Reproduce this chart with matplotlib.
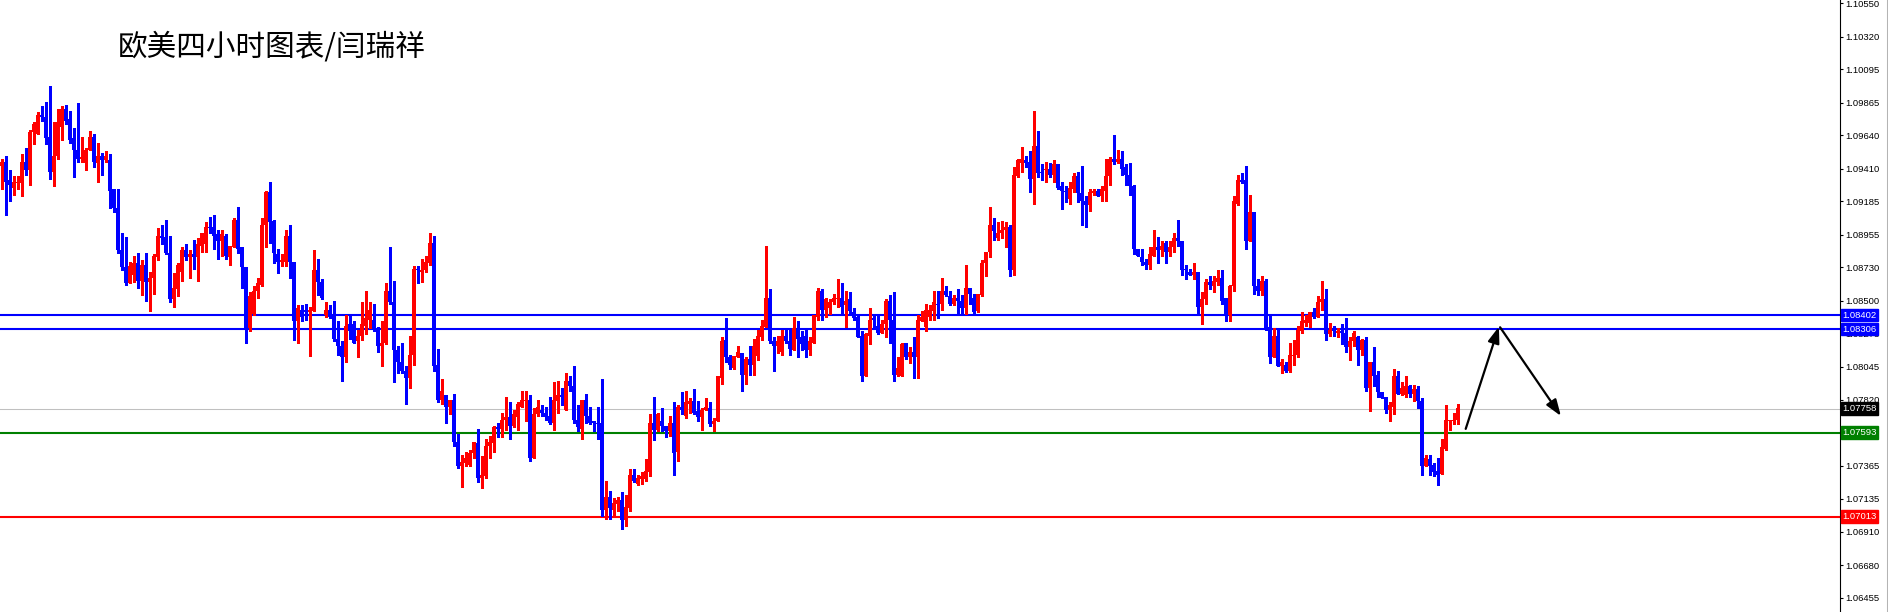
import numpy as np
import matplotlib
matplotlib.use("Agg")
import matplotlib.pyplot as plt
from matplotlib.lines import Line2D

opens = [
    1.0943, 1.0946, 1.0933, 1.0928, 1.0931, 1.0931, 1.0946, 1.0940, 1.0966, 1.0965,
    1.0978, 1.0977, 1.0963, 1.0939, 1.0950, 1.0970, 1.0982, 1.0975, 1.0962, 1.0954,
    1.0948, 1.0945, 1.0954, 1.0963, 1.0945, 1.0950, 1.0947, 1.0947, 1.0927, 1.0914,
    1.0885, 1.0873, 1.0862, 1.0868, 1.0876, 1.0864, 1.0875, 1.0863, 1.0866, 1.0880,
    1.0895, 1.0894, 1.0883, 1.0851, 1.0858, 1.0870, 1.0885, 1.0880, 1.0882, 1.0880,
    1.0888, 1.0889, 1.0901, 1.0901, 1.0896, 1.0891, 1.0895, 1.0880, 1.0887, 1.0906,
    1.0887, 1.0873, 1.0831, 1.0841, 1.0857, 1.0861, 1.0902, 1.0925, 1.0905, 1.0882,
    1.0877, 1.0877, 1.0895, 1.0877, 1.0836, 1.0844, 1.0844, 1.0842, 1.0843, 1.0871,
    1.0863, 1.0840, 1.0844, 1.0840, 1.0824, 1.0819, 1.0811, 1.0834, 1.0834, 1.0822,
    1.0826, 1.0833, 1.0837, 1.0837, 1.0831, 1.0819, 1.0821, 1.0857, 1.0849, 1.0816,
    1.0808, 1.0802, 1.0797, 1.0813, 1.0872, 1.0870, 1.0871, 1.0876, 1.0890, 1.0806,
    1.0782, 1.0785, 1.0777, 1.0782, 1.0753, 1.0736, 1.0738, 1.0737, 1.0745, 1.0752,
    1.0728, 1.0729, 1.0750, 1.0752, 1.0763, 1.0762, 1.0768, 1.0770, 1.0764, 1.0770,
    1.0777, 1.0781, 1.0782, 1.0742, 1.0772, 1.0775, 1.0773, 1.0771, 1.0766, 1.0781,
    1.0785, 1.0775, 1.0795, 1.0791, 1.0768, 1.0762, 1.0782, 1.0771, 1.0767, 1.0766,
    1.0766, 1.0706, 1.0715, 1.0706, 1.0710, 1.0713, 1.0699, 1.0707, 1.0730, 1.0724,
    1.0727, 1.0727, 1.0732, 1.0766, 1.0761, 1.0767, 1.0764, 1.0760, 1.0766, 1.0746,
    1.0777, 1.0771, 1.0779, 1.0781, 1.0774, 1.0770, 1.0775, 1.0776, 1.0765, 1.0767,
    1.0797, 1.0823, 1.0811, 1.0804, 1.0811, 1.0814, 1.0799, 1.0810, 1.0806, 1.0812,
    1.0825, 1.0832, 1.0852, 1.0822, 1.0819, 1.0815, 1.0826, 1.0822, 1.0816, 1.0831,
    1.0825, 1.0826, 1.0816, 1.0821, 1.0839, 1.0857, 1.0844, 1.0845, 1.0849, 1.0851,
    1.0852, 1.0847, 1.0851, 1.0842, 1.0839, 1.0826, 1.0798, 1.0826, 1.0838, 1.0833,
    1.0828, 1.0834, 1.0850, 1.0837, 1.0799, 1.0798, 1.0821, 1.0811, 1.0815, 1.0811,
    1.0836, 1.0832, 1.0839, 1.0843, 1.0848, 1.0848, 1.0857, 1.0853, 1.0848, 1.0852,
    1.0850, 1.0845, 1.0859, 1.0852, 1.0843, 1.0854, 1.0876, 1.0884, 1.0902, 1.0893,
    1.0897, 1.0899, 1.0901, 1.0871, 1.0936, 1.0945, 1.0947, 1.0946, 1.0934, 1.0957,
    1.0939, 1.0940, 1.0941, 1.0937, 1.0944, 1.0929, 1.0926, 1.0920, 1.0927, 1.0936,
    1.0924, 1.0919, 1.0916, 1.0924, 1.0926, 1.0922, 1.0926, 1.0936, 1.0948, 1.0946,
    1.0948, 1.0942, 1.0937, 1.0929, 1.0886, 1.0880, 1.0877, 1.0875, 1.0881, 1.0887,
    1.0885, 1.0890, 1.0884, 1.0887, 1.0893, 1.0891, 1.0872, 1.0870, 1.0868, 1.0870,
    1.0846, 1.0851, 1.0863, 1.0860, 1.0863, 1.0866, 1.0852, 1.0840, 1.0860, 1.0917,
    1.0933, 1.0933, 1.0891, 1.0911, 1.0860, 1.0857, 1.0864, 1.0832, 1.0811, 1.0826,
    1.0805, 1.0806, 1.0802, 1.0812, 1.0813, 1.0829, 1.0835, 1.0835, 1.0842, 1.0839,
    1.0849, 1.0851, 1.0827, 1.0830, 1.0828, 1.0829, 1.0828, 1.0818, 1.0822, 1.0825,
    1.0816, 1.0823, 1.0790, 1.0808, 1.0799, 1.0787, 1.0784, 1.0775, 1.0777, 1.0798,
    1.0786, 1.0785, 1.0791, 1.0786, 1.0789, 1.0781, 1.0736, 1.0741, 1.0737, 1.0733,
    1.0731, 1.0748, 1.0767, 1.0767, 1.0768,
]
highs = [
    1.0948, 1.0950, 1.0940, 1.0936, 1.0936, 1.0951, 1.0955, 1.0968, 1.0973, 1.0980,
    1.0984, 1.0987, 1.0998, 1.0973, 1.0982, 1.0984, 1.0985, 1.0981, 1.0969, 1.0986,
    1.0963, 1.0955, 1.0967, 1.0965, 1.0959, 1.0952, 1.0953, 1.0951, 1.0927, 1.0927,
    1.0897, 1.0894, 1.0877, 1.0881, 1.0883, 1.0878, 1.0883, 1.0870, 1.0882, 1.0900,
    1.0902, 1.0906, 1.0895, 1.0869, 1.0876, 1.0887, 1.0889, 1.0885, 1.0892, 1.0893,
    1.0897, 1.0904, 1.0908, 1.0909, 1.0899, 1.0899, 1.0896, 1.0888, 1.0907, 1.0915,
    1.0887, 1.0873, 1.0856, 1.0860, 1.0866, 1.0907, 1.0926, 1.0932, 1.0906, 1.0886,
    1.0882, 1.0899, 1.0902, 1.0877, 1.0847, 1.0847, 1.0848, 1.0846, 1.0885, 1.0879,
    1.0865, 1.0849, 1.0847, 1.0850, 1.0836, 1.0822, 1.0840, 1.0841, 1.0836, 1.0830,
    1.0849, 1.0857, 1.0849, 1.0848, 1.0832, 1.0836, 1.0862, 1.0887, 1.0864, 1.0819,
    1.0821, 1.0805, 1.0826, 1.0874, 1.0874, 1.0879, 1.0881, 1.0897, 1.0895, 1.0817,
    1.0796, 1.0785, 1.0782, 1.0786, 1.0758, 1.0744, 1.0746, 1.0747, 1.0753, 1.0762,
    1.0743, 1.0755, 1.0757, 1.0764, 1.0766, 1.0773, 1.0784, 1.0780, 1.0775, 1.0780,
    1.0788, 1.0788, 1.0785, 1.0776, 1.0782, 1.0778, 1.0777, 1.0784, 1.0794, 1.0795,
    1.0790, 1.0800, 1.0798, 1.0805, 1.0778, 1.0782, 1.0786, 1.0777, 1.0767, 1.0777,
    1.0796, 1.0726, 1.0719, 1.0714, 1.0715, 1.0718, 1.0716, 1.0734, 1.0734, 1.0730,
    1.0732, 1.0741, 1.0772, 1.0784, 1.0773, 1.0776, 1.0764, 1.0771, 1.0780, 1.0778,
    1.0787, 1.0788, 1.0783, 1.0789, 1.0781, 1.0776, 1.0783, 1.0780, 1.0769, 1.0798,
    1.0825, 1.0838, 1.0813, 1.0812, 1.0819, 1.0814, 1.0811, 1.0819, 1.0824, 1.0830,
    1.0837, 1.0888, 1.0858, 1.0825, 1.0826, 1.0830, 1.0830, 1.0830, 1.0839, 1.0836,
    1.0829, 1.0830, 1.0825, 1.0840, 1.0859, 1.0858, 1.0852, 1.0851, 1.0855, 1.0865,
    1.0862, 1.0857, 1.0856, 1.0845, 1.0840, 1.0829, 1.0828, 1.0845, 1.0840, 1.0840,
    1.0837, 1.0851, 1.0854, 1.0856, 1.0811, 1.0821, 1.0821, 1.0818, 1.0825, 1.0840,
    1.0843, 1.0848, 1.0847, 1.0857, 1.0857, 1.0866, 1.0860, 1.0857, 1.0854, 1.0858,
    1.0854, 1.0875, 1.0859, 1.0855, 1.0855, 1.0878, 1.0884, 1.0915, 1.0907, 1.0904,
    1.0905, 1.0904, 1.0902, 1.0942, 1.0948, 1.0956, 1.0950, 1.0953, 1.0981, 1.0967,
    1.0944, 1.0946, 1.0945, 1.0947, 1.0944, 1.0932, 1.0929, 1.0932, 1.0938, 1.0939,
    1.0943, 1.0922, 1.0927, 1.0927, 1.0927, 1.0929, 1.0948, 1.0949, 1.0964, 1.0954,
    1.0953, 1.0944, 1.0945, 1.0930, 1.0886, 1.0886, 1.0879, 1.0887, 1.0899, 1.0894,
    1.0891, 1.0891, 1.0891, 1.0897, 1.0906, 1.0891, 1.0875, 1.0872, 1.0876, 1.0870,
    1.0856, 1.0865, 1.0867, 1.0867, 1.0871, 1.0871, 1.0852, 1.0861, 1.0922, 1.0937,
    1.0938, 1.0943, 1.0923, 1.0911, 1.0865, 1.0867, 1.0865, 1.0841, 1.0831, 1.0831,
    1.0810, 1.0808, 1.0821, 1.0823, 1.0833, 1.0842, 1.0840, 1.0842, 1.0845, 1.0853,
    1.0864, 1.0858, 1.0835, 1.0833, 1.0831, 1.0834, 1.0838, 1.0825, 1.0829, 1.0826,
    1.0824, 1.0825, 1.0808, 1.0818, 1.0802, 1.0787, 1.0784, 1.0780, 1.0803, 1.0802,
    1.0794, 1.0798, 1.0792, 1.0792, 1.0791, 1.0783, 1.0744, 1.0744, 1.0738, 1.0742,
    1.0755, 1.0778, 1.0768, 1.0773, 1.0779,
]
lows = [
    1.0927, 1.0909, 1.0919, 1.0923, 1.0927, 1.0922, 1.0937, 1.0930, 1.0958, 1.0965,
    1.0974, 1.0958, 1.0934, 1.0929, 1.0948, 1.0961, 1.0972, 1.0959, 1.0935, 1.0946,
    1.0946, 1.0940, 1.0954, 1.0942, 1.0932, 1.0937, 1.0946, 1.0914, 1.0911, 1.0883,
    1.0871, 1.0861, 1.0862, 1.0863, 1.0859, 1.0854, 1.0850, 1.0843, 1.0855, 1.0878,
    1.0889, 1.0882, 1.0849, 1.0846, 1.0853, 1.0864, 1.0878, 1.0866, 1.0872, 1.0864,
    1.0884, 1.0884, 1.0897, 1.0886, 1.0879, 1.0881, 1.0879, 1.0875, 1.0887, 1.0883,
    1.0859, 1.0821, 1.0829, 1.0840, 1.0852, 1.0860, 1.0887, 1.0890, 1.0876, 1.0869,
    1.0874, 1.0874, 1.0866, 1.0823, 1.0821, 1.0836, 1.0837, 1.0812, 1.0843, 1.0854,
    1.0851, 1.0839, 1.0838, 1.0822, 1.0813, 1.0795, 1.0808, 1.0824, 1.0821, 1.0811,
    1.0823, 1.0827, 1.0831, 1.0829, 1.0815, 1.0805, 1.0820, 1.0848, 1.0794, 1.0800,
    1.0800, 1.0779, 1.0790, 1.0806, 1.0862, 1.0863, 1.0870, 1.0875, 1.0802, 1.0780,
    1.0779, 1.0766, 1.0772, 1.0750, 1.0735, 1.0722, 1.0736, 1.0736, 1.0742, 1.0725,
    1.0721, 1.0728, 1.0742, 1.0746, 1.0756, 1.0756, 1.0761, 1.0755, 1.0763, 1.0761,
    1.0777, 1.0767, 1.0740, 1.0742, 1.0771, 1.0771, 1.0768, 1.0765, 1.0761, 1.0773,
    1.0778, 1.0775, 1.0788, 1.0766, 1.0760, 1.0755, 1.0766, 1.0765, 1.0760, 1.0755,
    1.0702, 1.0700, 1.0700, 1.0702, 1.0705, 1.0693, 1.0695, 1.0705, 1.0725, 1.0723,
    1.0724, 1.0726, 1.0729, 1.0754, 1.0760, 1.0760, 1.0756, 1.0757, 1.0730, 1.0740,
    1.0772, 1.0769, 1.0773, 1.0772, 1.0767, 1.0761, 1.0775, 1.0764, 1.0760, 1.0767,
    1.0793, 1.0808, 1.0803, 1.0803, 1.0811, 1.0788, 1.0793, 1.0799, 1.0799, 1.0809,
    1.0823, 1.0832, 1.0821, 1.0802, 1.0814, 1.0813, 1.0821, 1.0813, 1.0816, 1.0811,
    1.0816, 1.0811, 1.0813, 1.0821, 1.0837, 1.0837, 1.0839, 1.0841, 1.0848, 1.0846,
    1.0841, 1.0832, 1.0841, 1.0837, 1.0825, 1.0795, 1.0798, 1.0820, 1.0831, 1.0827,
    1.0828, 1.0825, 1.0821, 1.0795, 1.0798, 1.0798, 1.0810, 1.0807, 1.0797, 1.0797,
    1.0836, 1.0829, 1.0837, 1.0837, 1.0838, 1.0844, 1.0853, 1.0847, 1.0847, 1.0841,
    1.0841, 1.0841, 1.0848, 1.0841, 1.0842, 1.0853, 1.0867, 1.0880, 1.0892, 1.0892,
    1.0893, 1.0887, 1.0867, 1.0868, 1.0935, 1.0939, 1.0942, 1.0925, 1.0917, 1.0935,
    1.0933, 1.0932, 1.0935, 1.0932, 1.0927, 1.0913, 1.0918, 1.0917, 1.0925, 1.0918,
    1.0902, 1.0901, 1.0912, 1.0923, 1.0922, 1.0919, 1.0919, 1.0930, 1.0944, 1.0945,
    1.0937, 1.0930, 1.0923, 1.0882, 1.0881, 1.0875, 1.0872, 1.0872, 1.0881, 1.0876,
    1.0881, 1.0876, 1.0881, 1.0884, 1.0888, 1.0868, 1.0865, 1.0868, 1.0865, 1.0841,
    1.0834, 1.0848, 1.0858, 1.0856, 1.0861, 1.0848, 1.0836, 1.0836, 1.0857, 1.0916,
    1.0931, 1.0886, 1.0891, 1.0855, 1.0854, 1.0854, 1.0830, 1.0807, 1.0811, 1.0805,
    1.0800, 1.0801, 1.0801, 1.0806, 1.0811, 1.0828, 1.0833, 1.0832, 1.0838, 1.0839,
    1.0844, 1.0823, 1.0826, 1.0826, 1.0825, 1.0820, 1.0815, 1.0809, 1.0819, 1.0806,
    1.0813, 1.0788, 1.0774, 1.0791, 1.0784, 1.0783, 1.0773, 1.0767, 1.0772, 1.0786,
    1.0785, 1.0784, 1.0784, 1.0781, 1.0776, 1.0730, 1.0736, 1.0730, 1.0729, 1.0723,
    1.0731, 1.0747, 1.0761, 1.0765, 1.0765,
]
closes = [
    1.0946, 1.0932, 1.0930, 1.0932, 1.0932, 1.0946, 1.0940, 1.0966, 1.0972, 1.0978,
    1.0977, 1.0962, 1.0939, 1.0950, 1.0973, 1.0982, 1.0974, 1.0961, 1.0954, 1.0948,
    1.0949, 1.0954, 1.0963, 1.0946, 1.0950, 1.0947, 1.0950, 1.0926, 1.0914, 1.0885,
    1.0873, 1.0862, 1.0874, 1.0876, 1.0864, 1.0875, 1.0863, 1.0866, 1.0881, 1.0895,
    1.0893, 1.0883, 1.0851, 1.0859, 1.0875, 1.0885, 1.0880, 1.0882, 1.0880, 1.0889,
    1.0897, 1.0901, 1.0900, 1.0895, 1.0891, 1.0896, 1.0881, 1.0888, 1.0906, 1.0886,
    1.0873, 1.0830, 1.0853, 1.0857, 1.0862, 1.0902, 1.0925, 1.0904, 1.0883, 1.0877,
    1.0878, 1.0895, 1.0877, 1.0836, 1.0845, 1.0839, 1.0842, 1.0844, 1.0871, 1.0863,
    1.0852, 1.0844, 1.0839, 1.0824, 1.0819, 1.0811, 1.0833, 1.0829, 1.0821, 1.0826,
    1.0834, 1.0838, 1.0844, 1.0830, 1.0819, 1.0821, 1.0857, 1.0849, 1.0816, 1.0808,
    1.0802, 1.0797, 1.0813, 1.0872, 1.0871, 1.0871, 1.0877, 1.0890, 1.0805, 1.0782,
    1.0788, 1.0777, 1.0782, 1.0753, 1.0736, 1.0739, 1.0742, 1.0745, 1.0753, 1.0728,
    1.0730, 1.0750, 1.0753, 1.0763, 1.0762, 1.0768, 1.0770, 1.0764, 1.0772, 1.0779,
    1.0782, 1.0782, 1.0742, 1.0772, 1.0777, 1.0773, 1.0770, 1.0766, 1.0782, 1.0785,
    1.0784, 1.0795, 1.0791, 1.0768, 1.0763, 1.0782, 1.0771, 1.0766, 1.0766, 1.0765,
    1.0706, 1.0715, 1.0707, 1.0711, 1.0713, 1.0699, 1.0708, 1.0730, 1.0726, 1.0728,
    1.0729, 1.0733, 1.0766, 1.0761, 1.0772, 1.0764, 1.0760, 1.0766, 1.0745, 1.0777,
    1.0775, 1.0780, 1.0781, 1.0773, 1.0770, 1.0775, 1.0777, 1.0765, 1.0767, 1.0798,
    1.0822, 1.0811, 1.0806, 1.0812, 1.0815, 1.0799, 1.0810, 1.0806, 1.0819, 1.0826,
    1.0833, 1.0852, 1.0822, 1.0819, 1.0822, 1.0826, 1.0822, 1.0817, 1.0831, 1.0824,
    1.0820, 1.0816, 1.0822, 1.0840, 1.0857, 1.0844, 1.0851, 1.0849, 1.0852, 1.0852,
    1.0846, 1.0850, 1.0843, 1.0838, 1.0825, 1.0798, 1.0827, 1.0837, 1.0837, 1.0828,
    1.0834, 1.0850, 1.0837, 1.0799, 1.0804, 1.0820, 1.0811, 1.0815, 1.0811, 1.0837,
    1.0839, 1.0844, 1.0844, 1.0849, 1.0847, 1.0857, 1.0854, 1.0848, 1.0852, 1.0850,
    1.0845, 1.0859, 1.0855, 1.0842, 1.0855, 1.0876, 1.0884, 1.0902, 1.0898, 1.0897,
    1.0899, 1.0901, 1.0871, 1.0937, 1.0947, 1.0948, 1.0945, 1.0934, 1.0957, 1.0938,
    1.0938, 1.0941, 1.0937, 1.0944, 1.0928, 1.0926, 1.0925, 1.0928, 1.0936, 1.0924,
    1.0919, 1.0916, 1.0925, 1.0926, 1.0922, 1.0927, 1.0936, 1.0948, 1.0946, 1.0948,
    1.0941, 1.0937, 1.0929, 1.0886, 1.0881, 1.0877, 1.0875, 1.0882, 1.0887, 1.0885,
    1.0888, 1.0884, 1.0887, 1.0893, 1.0891, 1.0871, 1.0871, 1.0868, 1.0870, 1.0846,
    1.0851, 1.0863, 1.0861, 1.0864, 1.0866, 1.0850, 1.0840, 1.0860, 1.0919, 1.0933,
    1.0932, 1.0891, 1.0911, 1.0860, 1.0857, 1.0864, 1.0831, 1.0811, 1.0826, 1.0805,
    1.0808, 1.0802, 1.0813, 1.0813, 1.0830, 1.0836, 1.0837, 1.0842, 1.0839, 1.0849,
    1.0851, 1.0827, 1.0830, 1.0829, 1.0829, 1.0828, 1.0818, 1.0822, 1.0828, 1.0816,
    1.0823, 1.0790, 1.0808, 1.0798, 1.0787, 1.0783, 1.0775, 1.0778, 1.0798, 1.0786,
    1.0790, 1.0791, 1.0786, 1.0789, 1.0781, 1.0736, 1.0742, 1.0736, 1.0732, 1.0730,
    1.0749, 1.0768, 1.0768, 1.0768, 1.0776,
]

# horizontale Linien + Preisschilder
level_prices = [1.08402, 1.08306, 1.07758, 1.07593, 1.07013]
level_colors = ["#0000FF", "#0000FF", "#C0C0C0", "#008000", "#FF0000"]
label_colors = ["#0000FF", "#0000FF", "#000000", "#008000", "#FF0000"]
level_widths = [1.5, 1.5, 0.75, 1.5, 1.5]

ytick_values = [1.10550, 1.10320, 1.10095, 1.09865, 1.09640, 1.09410, 1.09185,
                1.08955, 1.08730, 1.08500, 1.08275, 1.08045, 1.07820, 1.07590,
                1.07365, 1.07135, 1.06910, 1.06680, 1.06455]

# Pfeile (Prognose)
arrow_up = ((366.0, 1.07618), (374.3, 1.08322))
arrow_down = ((374.6, 1.08318), (389.8, 1.07707))

title = "欧美四小时图表/闫瑞祥"

fig = plt.figure(figsize=(18.88, 6.12), dpi=100, facecolor="white")
ax = fig.add_axes([0, 0, 1840 / 1888, 1])
ax.set_xlim(-0.425, 459.575)
ax.set_ylim(1.063564, 1.105727)

o = np.array(opens)
h = np.array(highs)
l = np.array(lows)
c = np.array(closes)
x = np.arange(len(c))
cols = np.where(c >= o, "#FF0000", "#0000FF")

ax.vlines(x, l, h, colors=cols, linewidth=0.75, antialiased=False, zorder=3)
body_lo = np.minimum(o, c)
body_h = np.maximum(np.abs(c - o), 0.00007)
ax.bar(x, body_h, bottom=body_lo, width=0.72, color=cols, linewidth=0,
       antialiased=False, zorder=4)

for price, col, lw in zip(level_prices, level_colors, level_widths):
    ax.axhline(price, color=col, linewidth=lw, zorder=2)

for price, col in zip(level_prices, label_colors):
    ax.text(1.0012, price, f"{price:.5f}", transform=ax.get_yaxis_transform(),
            ha="left", va="center", fontsize=6.8, family="Liberation Sans",
            color="white", clip_on=False, zorder=10,
            bbox=dict(boxstyle="square,pad=0.18", facecolor=col, edgecolor=col))

for (x0, y0), (x1, y1) in (arrow_up, arrow_down):
    ax.annotate("", xy=(x1, y1), xytext=(x0, y0),
                arrowprops=dict(arrowstyle="-|>,head_length=0.7,head_width=0.25",
                                color="black", lw=1.6, shrinkA=0, shrinkB=0,
                                mutation_scale=14), zorder=6)

# Achsen im MT4-Stil
for s in ("left", "top", "bottom"):
    ax.spines[s].set_visible(False)
ax.spines["right"].set_linewidth(0.8)
ax.set_xticks([])
ax.yaxis.tick_right()
ax.set_yticks(ytick_values)
ax.set_yticklabels([f"{v:.5f}" for v in ytick_values])
ax.tick_params(axis="y", direction="out", length=2.2, width=0.8, pad=1.5,
               labelsize=6.8, labelcolor="black")
for lab in ax.get_yticklabels():
    lab.set_family("Liberation Sans")

fig.text(118 / 1888, 1 - 47 / 612, title, fontsize=21.3, va="center", ha="left",
         family=["Noto Sans CJK SC", "DejaVu Sans"], color="black")

fig.add_artist(Line2D([1886.5 / 1888] * 2, [0, 1], transform=fig.transFigure,
                      color="#B4B4B4", linewidth=0.75))

fig.savefig("out.png", dpi=100, facecolor="white")
